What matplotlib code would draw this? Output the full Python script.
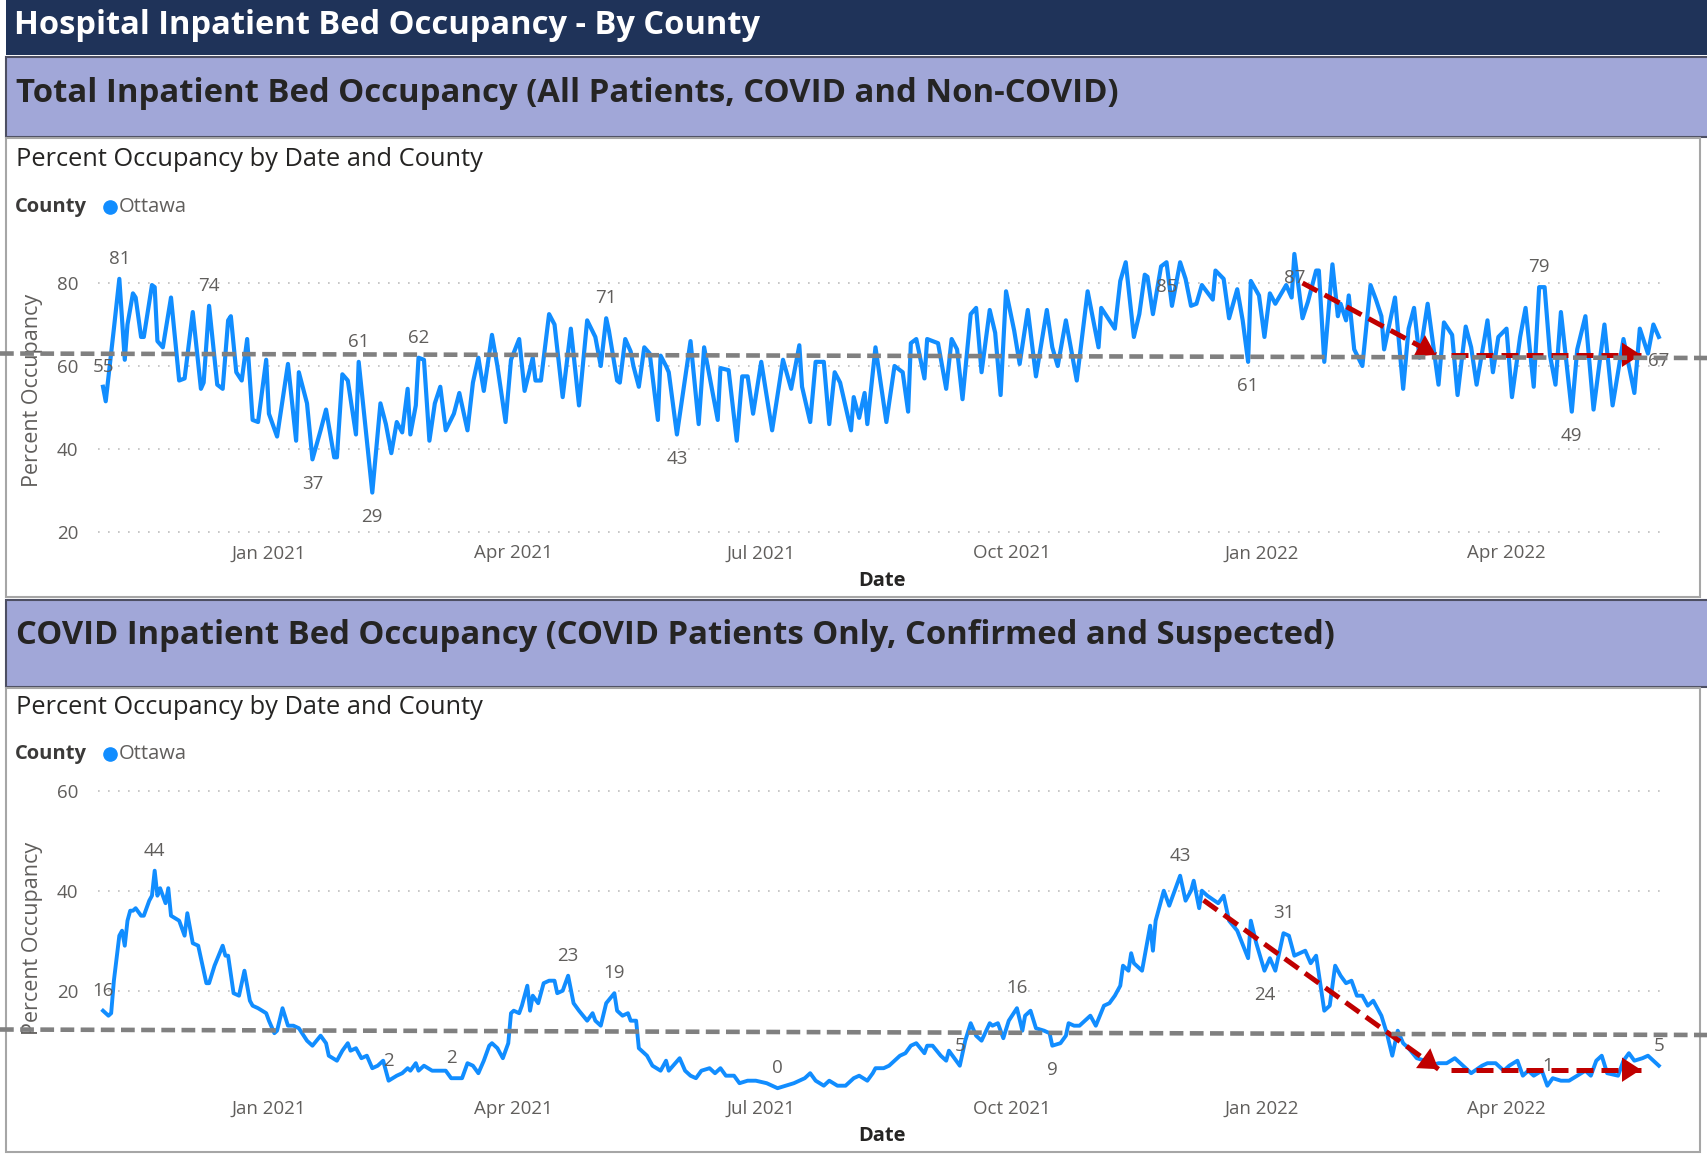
import numpy as np
import pandas as pd
import matplotlib
matplotlib.use("Agg")
import matplotlib.pyplot as plt
import matplotlib.dates as mdates
from matplotlib.patches import Rectangle
from matplotlib.lines import Line2D

# ---------------- data ----------------
start_date = "2020-11-01"

# Total inpatient occupancy: day offset from start_date, percent
total_days = [0, 1, 4, 6, 8, 9, 11, 12, 14, 15, 18, 19, 20, 22, 25, 28, 30, 33, 36, 37,
              39, 42, 44, 46, 47, 49, 51, 53, 55, 57, 60, 61, 64, 68, 71, 72, 75, 77, 80, 82,
              85, 86, 88, 90, 93, 94, 99, 102, 104, 106, 108, 110, 112, 113, 115, 116, 118, 120, 122, 124,
              126, 129, 131, 134, 136, 138, 140, 143, 145, 148, 150, 153, 155, 158, 159, 161, 164, 166, 169, 172,
              175, 178, 181, 183, 185, 186, 189, 190, 192, 194, 195, 197, 199, 201, 204, 205, 207, 208, 211, 216,
              219, 221, 223, 226, 227, 230, 233, 235, 237, 239, 242, 246, 250, 253, 256, 257, 260, 262, 265, 267,
              269, 271, 275, 276, 278, 280, 281, 284, 288, 291, 294, 296, 297, 299, 302, 303, 307, 310, 312, 314,
              316, 319, 321, 323, 326, 328, 330, 332, 335, 337, 340, 343, 347, 349, 351, 354, 358, 362, 366, 367,
              372, 374, 376, 379, 381, 383, 384, 386, 389, 391, 393, 396, 398, 400, 402, 404, 408, 409, 412, 414,
              417, 419, 421, 422, 425, 427, 429, 431, 435, 437, 438, 441, 443, 446, 447, 449, 452, 454, 455, 457,
              458, 460, 463, 466, 468, 470, 471, 475, 478, 480, 482, 484, 487, 491, 493, 496, 498, 501, 503, 505,
              508, 509, 511, 513, 516, 518, 521, 523, 526, 528, 530, 532, 534, 536, 540, 542, 545, 548, 552, 555,
              559, 563, 565, 568, 570, 572]
total_vals = [55, 51.5, 69, 81, 61.5, 70, 77.5, 76.5, 67, 67, 79.5, 79, 66, 64.5, 76.5, 56.5, 57, 73, 54.5, 56,
              74.5, 55.5, 54.5, 71, 72, 58.5, 56.5, 66.5, 47, 46.5, 61.5, 48.5, 43, 60.5, 42, 58.5, 51, 37.5, 44.5, 49.5,
              38, 38, 58, 56.5, 43.5, 61, 29.5, 51, 46, 39, 46.5, 44, 54.5, 43.5, 50.5, 62, 61.5, 42, 51, 55,
              44.5, 48.5, 53.5, 44.5, 56, 62, 54, 67.5, 60, 46.5, 61.5, 66.5, 54, 62, 56.5, 56.5, 72.5, 70, 52.5, 69,
              50.5, 71, 67, 60, 71.5, 68.5, 56.5, 56, 66.5, 63.5, 60, 55, 64.5, 63, 47, 62.5, 60, 58.5, 43.5, 66,
              46, 64.5, 57.5, 47, 59.5, 59, 42, 57.5, 57.5, 48.5, 61, 44.5, 61.5, 54.5, 65, 55, 46.5, 61, 61, 46,
              58.5, 56, 44.5, 52.5, 47.5, 53.5, 46, 64.5, 46.5, 60, 58.5, 49, 65.5, 66.5, 57, 66.5, 65.5, 54.5, 66.5, 64,
              52, 72.5, 74, 58.5, 73.5, 68, 53, 78, 68.5, 60.5, 73.5, 57.5, 73.5, 64.5, 60, 71, 56.5, 78, 64.5, 74,
              69, 80.5, 85, 67, 72.5, 82, 81.5, 72.5, 84, 85, 74.5, 85, 81, 74.5, 75, 79.5, 76, 83, 81, 71.5,
              78.5, 71, 61, 80.5, 77, 67, 77.5, 75, 79.5, 76.5, 87, 71.5, 75.5, 83, 83, 61, 84.5, 72, 75, 71,
              77, 64, 60, 79.5, 76, 72, 64, 76.5, 54.5, 69, 74, 62, 75, 55.5, 70.5, 67.5, 53, 69.5, 64.5, 55.5,
              67, 71, 58.5, 67, 69, 52.5, 67, 74, 55, 79, 79, 62.5, 55.5, 73, 49, 64, 72, 49.5, 70, 50.5,
              66.5, 53.5, 69, 63, 70, 67]

# COVID inpatient occupancy: day offset from start_date, percent
covid_days = [0, 2, 3, 4, 6, 7, 8, 9, 10, 11, 12, 14, 15, 17, 18, 19, 20, 21, 22, 23,
              24, 25, 28, 30, 31, 33, 35, 38, 39, 41, 44, 45, 46, 48, 50, 52, 54, 55, 57, 60,
              61, 63, 64, 66, 68, 70, 72, 75, 77, 80, 82, 83, 86, 88, 90, 91, 93, 95, 97, 99,
              101, 103, 105, 108, 110, 112, 113, 115, 116, 118, 121, 124, 126, 128, 132, 134, 136, 138, 140, 142,
              143, 145, 147, 149, 150, 151, 153, 154, 156, 157, 158, 160, 162, 164, 166, 167, 169, 171, 173, 175,
              178, 180, 181, 183, 185, 188, 189, 191, 193, 194, 196, 197, 200, 202, 205, 207, 208, 212, 214, 216,
              218, 220, 223, 225, 227, 229, 232, 234, 237, 240, 244, 248, 251, 254, 258, 260, 262, 265, 267, 270,
              273, 276, 278, 281, 283, 284, 287, 289, 291, 293, 295, 297, 299, 302, 303, 305, 308, 310, 311, 313,
              315, 317, 319, 321, 323, 326, 327, 329, 331, 333, 336, 338, 339, 341, 343, 346, 348, 349, 352, 354,
              355, 357, 359, 363, 365, 368, 370, 372, 374, 375, 377, 378, 379, 382, 385, 386, 387, 390, 392, 394,
              396, 398, 400, 401, 403, 404, 406, 410, 412, 414, 417, 421, 422, 424, 427, 429, 431, 434, 436, 438,
              442, 444, 446, 449, 451, 453, 455, 457, 459, 461, 463, 465, 467, 470, 472, 474, 476, 478, 480, 483,
              486, 488, 491, 494, 497, 500, 503, 507, 509, 512, 515, 517, 520, 522, 524, 526, 529, 531, 533, 536,
              539, 542, 545, 547, 549, 551, 553, 557, 559, 561, 563, 566, 568, 570, 572]
covid_vals = [16, 15, 15.5, 22, 31, 32, 29, 34, 36, 36, 36.5, 35, 35, 38, 39, 44, 39, 40.5, 39, 37.5,
              40.5, 35, 34, 31, 35.5, 29.5, 29, 21.5, 21.5, 25, 29, 27, 27, 19.5, 19, 24, 18, 17, 16.5, 15.5,
              14, 11.5, 12, 16.5, 13, 13, 12.5, 10, 9, 11, 9.5, 7, 6, 8, 9.5, 8, 8.5, 6.5, 7, 4.5,
              5, 6, 2, 3, 3.5, 4.5, 4, 5.5, 4, 5, 4, 4, 4, 2.5, 2.5, 5.5, 5, 3.5, 6, 9,
              9.5, 8.5, 6.5, 9.5, 15.5, 16, 15.5, 17, 21, 16, 19, 17.5, 21.5, 22, 22, 19.5, 20, 23, 17.5, 16,
              14, 15.5, 14, 13, 17.5, 19.5, 16, 15, 15.5, 14, 14, 8.5, 7, 5, 4, 6, 4, 6.5, 4, 3,
              2.5, 4, 4.5, 3.5, 4.5, 3, 3, 1.5, 2, 2, 1.5, 0.5, 1, 1.5, 2.5, 3.5, 2, 1, 2, 1,
              1, 2.5, 3, 2, 3.5, 4.5, 4.5, 5, 6, 7, 7.5, 9, 9.5, 7.5, 9, 9, 7, 6, 8, 6.5,
              5, 10, 13.5, 11, 10, 13.5, 13, 13.5, 10.5, 14, 16.5, 12, 15, 16, 12.5, 12, 11.5, 9, 9.5, 11,
              13.5, 13, 13, 15, 13, 17, 17.5, 19, 21, 25, 24, 27.5, 25.5, 24, 33, 28, 34, 40, 37, 40,
              43, 38, 40, 42, 36.5, 40, 39, 37.5, 39, 34, 32, 26.5, 34, 29.5, 24, 26.5, 24, 31.5, 31, 27,
              28, 25.5, 27, 16, 17, 25, 23, 21.5, 22, 19, 19, 17, 18, 15, 11.5, 7, 12, 9.5, 8.5, 6.5,
              6, 5, 5.5, 5.5, 6.5, 5, 3.5, 5, 5.5, 5.5, 4, 5, 6, 3, 4, 3, 4, 1, 2.5, 2,
              2, 3, 4, 3, 6, 7, 3.5, 3, 6, 7.5, 6, 6.5, 7, 6, 5]

# data labels: (day offset, label text, above/below)
total_labels = [(0, "55", "above"), (6, "81", "above"), (39, "74", "above"), (77, "37", "below"),
                (94, "61", "above"), (99, "29", "below"), (116, "62", "above"), (185, "71", "above"),
                (211, "43", "below"), (391, "85", "below"), (421, "61", "below"), (438, "87", "below"),
                (528, "79", "above"), (540, "49", "below"), (572, "67", "below")]
covid_labels = [(0, "16", "above"), (19, "44", "above"), (105, "2", "above"), (128, "2", "above"),
                (171, "23", "above"), (188, "19", "above"), (248, "0", "above"), (315, "5", "above"),
                (336, "16", "above"), (349, "9", "below"), (396, "43", "above"), (434, "31", "above"),
                (427, "24", "below"), (531, "1", "above"), (572, "5", "above")]

total_yticks = [20, 40, 60, 80]
covid_yticks = [20, 40, 60]
month_ticks = ["2021-01-01", "2021-04-01", "2021-07-01", "2021-10-01", "2022-01-01", "2022-04-01"]

# ---------------- styling ----------------
W, H = 1708, 1157
DPI = 100
plt.rcParams["font.family"] = ["Open Sans", "DejaVu Sans"]

NAVY = "#1f3359"
LAV = "#a1a7d8"
BLUE = "#118dff"
DARK = "#252423"
GRAY_T = "#605e5c"
RED = "#c00000"

fig = plt.figure(figsize=(W / DPI, H / DPI), dpi=DPI)
fig.patch.set_facecolor("white")


def fx(x):
    return x / W


def fy(y):
    return 1 - y / H


def prect(x0, y0, x1, y1, **kw):
    r = Rectangle((fx(x0), fy(y1)), fx(x1) - fx(x0), fy(y0) - fy(y1),
                  transform=fig.transFigure, **kw)
    fig.add_artist(r)


# background blocks
prect(6, 0, W, 55, facecolor=NAVY, edgecolor="none", zorder=-5)
prect(6, 57, W + 2, 137, facecolor=LAV, edgecolor="#4d4f63", lw=1.5, zorder=-5)
prect(6, 138, 1700, 597, facecolor="white", edgecolor="#a6a6a6", lw=1.5, zorder=-5)
prect(6, 600, W + 2, 687, facecolor=LAV, edgecolor="#4d4f63", lw=1.5, zorder=-5)
prect(6, 688, 1700, 1152, facecolor="white", edgecolor="#a6a6a6", lw=1.5, zorder=-5)

fig.text(fx(14), fy(25), "Hospital Inpatient Bed Occupancy - By County", color="white",
         fontsize=23.5, fontweight="bold", va="center", ha="left")
fig.text(fx(16), fy(94), "Total Inpatient Bed Occupancy (All Patients, COVID and Non-COVID)",
         color=DARK, fontsize=23.7, fontweight="bold", va="center", ha="left")
fig.text(fx(16), fy(636), "COVID Inpatient Bed Occupancy (COVID Patients Only, Confirmed and Suspected)",
         color=DARK, fontsize=23.6, fontweight="bold", va="center", ha="left")

start = pd.Timestamp(start_date)


def to_dates(days):
    return start + pd.to_timedelta(np.asarray(days, dtype=float), unit="D")


def panel(top_px, bottom_px, ylim, yticks, days, vals, labels, sub_y, leg_y, xlab_y, lw):
    fig.text(fx(16), fy(sub_y), "Percent Occupancy by Date and County", color=DARK,
             fontsize=18.3, va="center", ha="left")
    fig.text(fx(15), fy(leg_y), "County", color="#3b3a39", fontsize=14.5, fontweight="bold",
             va="center", ha="left")
    fig.add_artist(Line2D([fx(110)], [fy(leg_y)], marker="o", markersize=9.5, color=BLUE,
                          transform=fig.transFigure))
    fig.text(fx(119), fy(leg_y), "Ottawa", color=GRAY_T, fontsize=14.5, va="center", ha="left")

    ax = fig.add_axes([fx(98), fy(bottom_px), fx(1667) - fx(98), fy(top_px) - fy(bottom_px)])
    ax.set_facecolor("none")
    d = to_dates(days)
    ax.plot(d, vals, color=BLUE, lw=lw, solid_joinstyle="round", zorder=3)
    lookup = dict(zip(days, vals))
    for day, txt, pos in labels:
        dy = 14.5 if pos == "above" else -17.5
        ax.annotate(txt, (to_dates([day])[0], lookup[day]), xytext=(0, dy),
                    textcoords="offset points", ha="center", va="center",
                    fontsize=13.5, color=GRAY_T, zorder=4)
    ax.set_ylim(*ylim)
    ax.set_yticks(yticks)
    x0 = start - pd.Timedelta(days=1.84)
    x1 = start + pd.Timedelta(days=575)
    ax.set_xlim(x0, x1)
    ax.set_xticks(pd.to_datetime(month_ticks))
    ax.xaxis.set_major_formatter(mdates.DateFormatter("%b %Y"))
    for s in ax.spines.values():
        s.set_visible(False)
    ax.tick_params(axis="both", length=0, labelsize=13.5, labelcolor=GRAY_T)
    ax.tick_params(axis="y", pad=14)
    ax.tick_params(axis="x", pad=3)
    ax.yaxis.grid(True, linestyle=(0, (1, 5)), color="#bdbdbd", lw=1.2)
    ax.set_axisbelow(True)
    ax.set_ylabel("Percent Occupancy", fontsize=15.5, color=GRAY_T, va="center")
    ax.yaxis.set_label_coords((33 - 98) / 1569, 0.5)
    ax.set_xlabel("Date", fontsize=14.5, fontweight="bold", color=DARK)
    ax.xaxis.label.set_va("center")
    ax.xaxis.set_label_coords(0.5, (bottom_px - xlab_y) / (bottom_px - top_px))
    return ax


ax1 = panel(241.5, 540.3, (18, 90), total_yticks, total_days, total_vals, total_labels,
            159, 207, 580.5, 3.0)
ax2 = panel(780.7, 1095.7, (-1, 62), covid_yticks, covid_days, covid_vals, covid_labels,
            707, 754, 1136, 2.8)


def red_arrow(ax, p0, p1):
    a = to_dates([p0[0]])[0]
    b = to_dates([p1[0]])[0]
    ax.plot([a, b], [p0[1], p1[1]], color=RED, lw=3.6, dashes=(3.4, 1.6),
            solid_capstyle="butt", dash_capstyle="butt", zorder=6, clip_on=False)
    ax.annotate("", xy=(b, p1[1]), xytext=(a, p0[1]),
                arrowprops=dict(arrowstyle="-|>,head_length=0.85,head_width=0.55", color=RED,
                                lw=0, mutation_scale=16, shrinkA=0, shrinkB=0),
                zorder=7, annotation_clip=False)


# trend annotations (red dashed arrows)
red_arrow(ax1, (441, 80), (490, 62.7))
red_arrow(ax1, (495.6, 62.7), (565.4, 62.7))
red_arrow(ax2, (404.6, 38.1), (491, 4.3))
red_arrow(ax2, (495.6, 4.2), (565.4, 4.2))

# gray dashed reference lines across the whole page
fig.add_artist(Line2D([0, 1], [fy(353.5), fy(358)], transform=fig.transFigure, color="#808080",
                      lw=3.3, dashes=(3.0, 1.4), zorder=5))
fig.add_artist(Line2D([0, 1], [fy(1029.5), fy(1035)], transform=fig.transFigure, color="#808080",
                      lw=3.3, dashes=(3.0, 1.4), zorder=5))

fig.savefig("out.png", dpi=DPI, facecolor="white")
